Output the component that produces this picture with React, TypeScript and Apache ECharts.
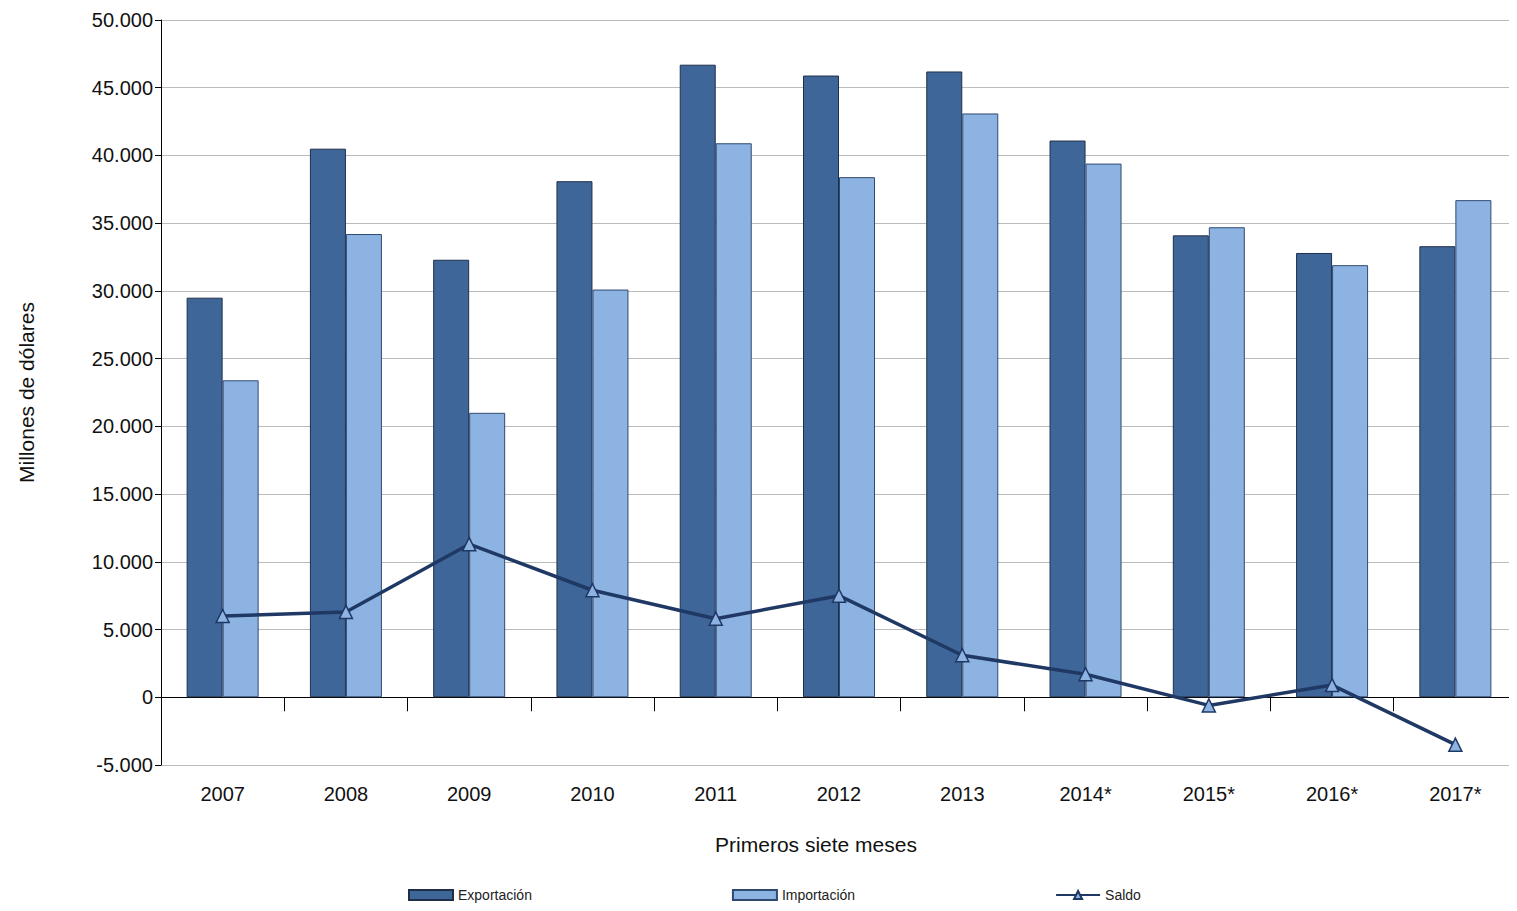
import React, { useEffect, useRef } from 'react';
import * as echarts from 'echarts';

const years = ['2007', '2008', '2009', '2010', '2011', '2012', '2013', '2014*', '2015*', '2016*', '2017*'];
const exportacion = [29500, 40500, 32300, 38100, 46700, 45900, 46200, 41100, 34100, 32800, 33300];
const importacion = [23400, 34200, 21000, 30100, 40900, 38400, 43100, 39400, 34700, 31900, 36700];
const saldo = [6000, 6300, 11300, 7900, 5800, 7500, 3100, 1700, -600, 900, -3500];

const font = 'Liberation Sans, Arial, sans-serif';

const App = () => {
  const ref = useRef<HTMLDivElement>(null);

  useEffect(() => {
    if (!ref.current) return;
    const chart = echarts.init(ref.current, null, { renderer: 'svg' });
    const option: echarts.EChartsOption = {
      animation: false,
      textStyle: { fontFamily: font },
      grid: { left: 149, right: 0, top: 12, bottom: 146 },
      legend: {
        top: 880,
        left: 400,
        itemGap: 200,
        itemWidth: 44,
        itemHeight: 10,
        padding: 0,
        textStyle: { fontSize: 14, color: '#222', fontFamily: font },
        data: [
          { name: 'Exportación', icon: 'rect' },
          { name: 'Importación', icon: 'rect' },
          { name: 'Saldo' },
        ],
      },
      xAxis: [
        {
          type: 'category',
          data: years,
          axisLine: { onZero: true, lineStyle: { color: '#000' } },
          axisTick: { show: true, length: 14, inside: false, lineStyle: { color: '#000' } },
          axisLabel: { show: false },
        },
        {
          type: 'category',
          data: years,
          position: 'bottom',
          axisLine: { show: false },
          axisTick: { show: false },
          axisLabel: { fontSize: 20, color: '#111', margin: 19, fontFamily: font },
          name: 'Primeros siete meses',
          nameLocation: 'middle',
          nameGap: 69,
          nameTextStyle: { fontSize: 21, color: '#111', fontFamily: font, padding: [0, 46, 0, 0] },
        },
      ],
      yAxis: {
        type: 'value',
        min: -5000,
        max: 50000,
        interval: 5000,
        axisLine: { show: true, lineStyle: { color: '#000' } },
        axisTick: { show: true, length: 6, lineStyle: { color: '#000' } },
        splitLine: { lineStyle: { color: '#bbb' } },
        axisLabel: {
          fontSize: 20,
          color: '#111',
          fontFamily: font,
          formatter: (v: number) => v.toLocaleString('de-DE'),
        },
        name: 'Millones de dólares',
        nameLocation: 'middle',
        nameGap: 124,
        nameTextStyle: { fontSize: 21, color: '#111', fontFamily: font },
      },
      series: [
        {
          name: 'Exportación',
          type: 'bar',
          data: exportacion,
          barWidth: 36,
          barGap: '0%',
          itemStyle: { color: '#3F6699', borderColor: '#1F2F4A', borderWidth: 1 },
        },
        {
          name: 'Importación',
          type: 'bar',
          data: importacion,
          barWidth: 36,
          barGap: '0%',
          itemStyle: { color: '#8DB3E2', borderColor: '#2F4A70', borderWidth: 1 },
        },
        {
          name: 'Saldo',
          type: 'line',
          data: saldo,
          symbol: 'triangle',
          symbolSize: 13,
          lineStyle: { color: '#1F3864', width: 3.5 },
          itemStyle: { color: '#8DB3E2', borderColor: '#1F3864', borderWidth: 1.5 },
          z: 5,
        },
      ],
    };
    chart.setOption(option);
    return () => chart.dispose();
  }, []);

  return <div ref={ref} style={{ width: 1509, height: 903 }} />;
};

export default App;
